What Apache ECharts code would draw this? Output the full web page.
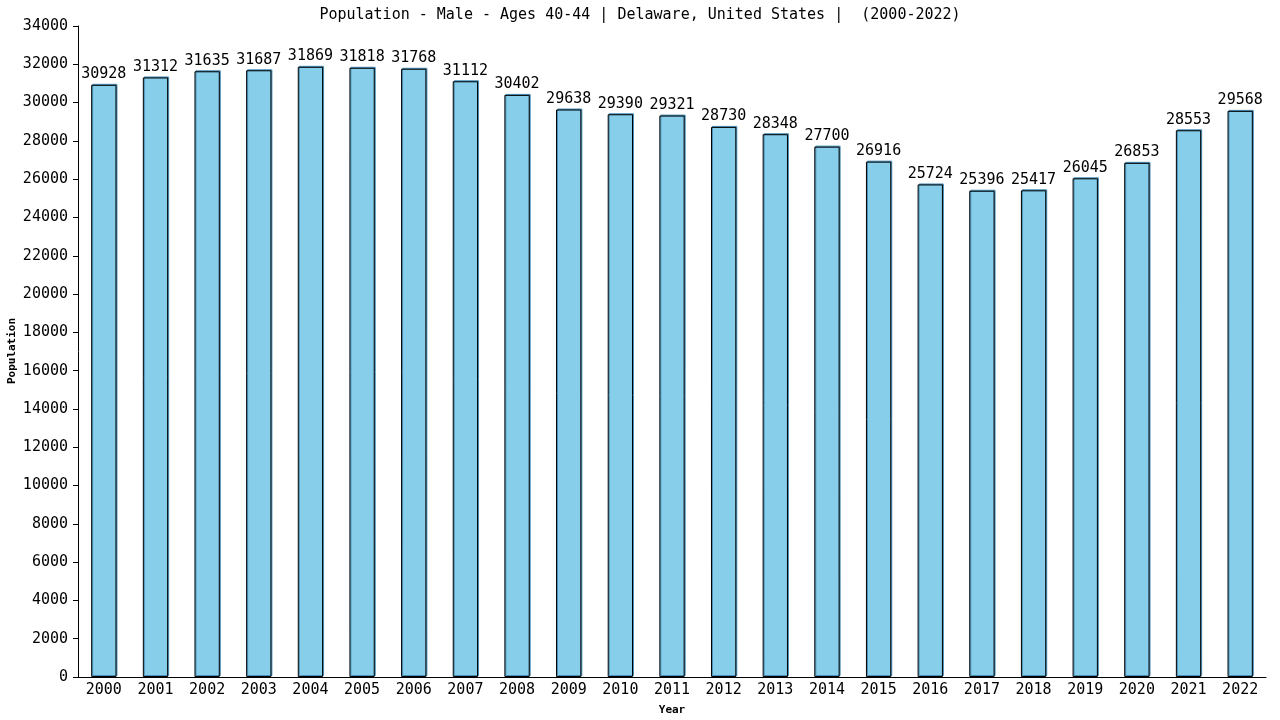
<!DOCTYPE html>
<html><head><meta charset="utf-8">
<script src="https://cdn.jsdelivr.net/npm/echarts@6/dist/echarts.min.js"></script>
<style>html,body{margin:0;padding:0;background:#fff}#c{width:1280px;height:720px}</style>
</head><body><div id="c"></div>
<script>
const years = ['2000','2001','2002','2003','2004','2005','2006','2007','2008','2009','2010','2011','2012','2013','2014','2015','2016','2017','2018','2019','2020','2021','2022'];
const population = [30928,31312,31635,31687,31869,31818,31768,31112,30402,29638,29390,29321,28730,28348,27700,26916,25724,25396,25417,26045,26853,28553,29568];
const titleText = 'Population - Male - Ages 40-44 | Delaware, United States |  (2000-2022)';
const yAxisName = 'Population';
const font = '"DejaVu Sans Mono", monospace';
const chart = echarts.init(document.getElementById('c'));
chart.setOption({
  animation: false,
  title: { text: titleText, left: 'center', top: 3, textStyle: { fontFamily: font, fontSize: 15, fontWeight: 'normal', color: '#000' } },
  grid: { left: 78, right: 14, top: 26, bottom: 43, outerBoundsMode: 'none', containLabel: false },
  graphic: [{
    type: 'text', x: 12, y: 351, rotation: Math.PI / 2,
    style: { text: yAxisName, fontFamily: font, fontSize: 11, fontWeight: 'bold', fill: '#000', align: 'center', verticalAlign: 'middle' }
  }],
  xAxis: {
    type: 'category', data: years,
    name: 'Year', nameLocation: 'middle', nameGap: 28,
    nameTextStyle: { fontFamily: font, fontSize: 11, fontWeight: 'bold', color: '#000' },
    axisLine: { lineStyle: { color: '#000', width: 1 } },
    axisTick: { show: false },
    axisLabel: { fontFamily: font, fontSize: 15, color: '#000', margin: 6, interval: 0 }
  },
  yAxis: {
    type: 'value', min: 0, max: 34000, interval: 2000,
    axisLine: { show: true, lineStyle: { color: '#000', width: 1 } },
    axisTick: { show: true, length: 5, lineStyle: { color: '#000' } },
    axisLabel: { fontFamily: font, fontSize: 15, color: '#000', margin: 10, formatter: v => String(v) },
    splitLine: { show: false }
  },
  series: [{
    type: 'bar', data: population, barWidth: '49%',
    itemStyle: { color: '#87ceeb', borderColor: '#000', borderWidth: 1, shadowColor: '#4a90b8', shadowOffsetX: 1, shadowOffsetY: -1 },
    label: { show: true, position: 'top', distance: 3, fontFamily: font, fontSize: 15, color: '#000' }
  }]
});
</script></body></html>
